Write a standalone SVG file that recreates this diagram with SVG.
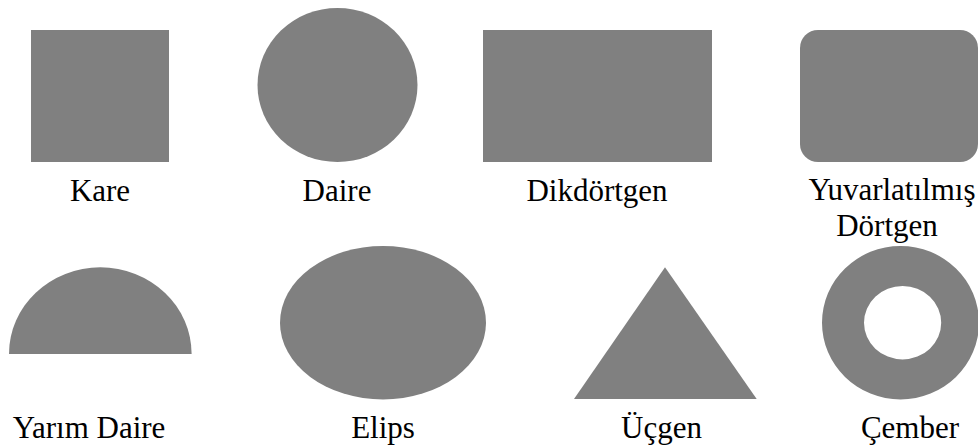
<svg xmlns="http://www.w3.org/2000/svg" width="978" height="447" viewBox="0 0 978 447">
<style>
.s{fill:#808080}
.t{font-family:"Liberation Serif","Times New Roman",serif;font-size:31px;fill:#000;text-anchor:middle}
</style>
<rect width="978" height="447" fill="#fff"/>
<g id="kare"><rect class="s" x="31" y="30" width="138" height="132"/><text class="t" x="100" y="201">Kare</text></g>
<g id="daire"><ellipse class="s" cx="337.5" cy="85" rx="80" ry="77"/><text class="t" x="337" y="201">Daire</text></g>
<g id="dikdortgen"><rect class="s" x="483" y="30" width="229" height="132"/><text class="t" x="597" y="201">Dikdörtgen</text></g>
<g id="yuvarlatilmis"><rect class="s" x="800" y="30" width="178" height="132" rx="18" ry="18"/><text class="t" x="892" y="200">Yuvarlatılmış</text><text class="t" x="887" y="236">Dörtgen</text></g>
<g id="yarim-daire"><path class="s" d="M9 354 A91.3 86.7 0 0 1 191.6 354 Z"/><text class="t" x="89" y="438">Yarım Daire</text></g>
<g id="elips"><ellipse class="s" cx="383" cy="322.7" rx="103" ry="76.7"/><text class="t" x="383" y="438">Elips</text></g>
<g id="ucgen"><polygon class="s" points="665,267.3 756.7,399 574,399"/><text class="t" x="661.5" y="438">Üçgen</text></g>
<g id="cember"><path class="s" fill-rule="evenodd" d="M822 322.7 A78.5 76.7 0 1 0 979 322.7 A78.5 76.7 0 1 0 822 322.7 Z M864 322.7 A38.6 36.7 0 1 0 941.2 322.7 A38.6 36.7 0 1 0 864 322.7 Z"/><text class="t" x="910" y="438">Çember</text></g>
</svg>
